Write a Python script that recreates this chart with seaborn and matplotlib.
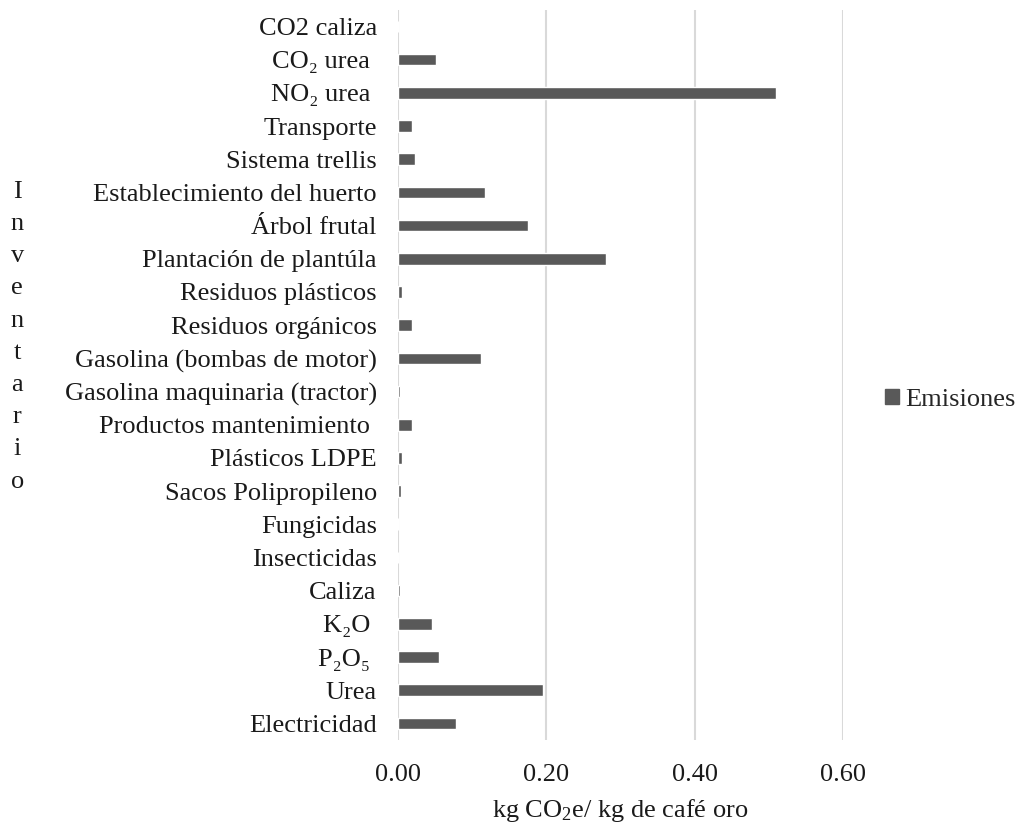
import matplotlib
matplotlib.use("Agg")
import matplotlib.pyplot as plt
import matplotlib.patches as mpatches
import pandas as pd
import seaborn as sns

# ---------- data ----------
categories = [
    "CO2 caliza", "CO₂ urea ", "NO₂ urea ", "Transporte", "Sistema trellis",
    "Establecimiento del huerto", "Árbol frutal", "Plantación de plantúla",
    "Residuos plásticos", "Residuos orgánicos", "Gasolina (bombas de motor)",
    "Gasolina maquinaria (tractor)", "Productos mantenimiento ",
    "Plásticos LDPE", "Sacos Polipropileno", "Fungicidas", "Insecticidas",
    "Caliza", "K₂O ", "P₂O₅ ", "Urea", "Electricidad",
]
emisiones = [
    0.000, 0.051, 0.509, 0.019, 0.023,
    0.118, 0.176, 0.280,
    0.006, 0.020, 0.112,
    0.003, 0.020,
    0.006, 0.005, 0.000, 0.000,
    0.003, 0.046, 0.056, 0.196, 0.079,
]
xticks = [0.0, 0.2, 0.4, 0.6]

FONT = ["Liberation Serif", "DejaVu Serif"]
BAR = "#595959"
GRID = "#d9d9d9"
TXT = "#1a1a1a"
FS = 19

sns.set_style("white")
plt.rcParams["font.family"] = FONT
plt.rcParams["mathtext.fontset"] = "custom"
plt.rcParams["mathtext.rm"] = "Liberation Serif"
plt.rcParams["mathtext.it"] = "Liberation Serif:italic"

df = pd.DataFrame({"Inventario": categories, "Emisiones": emisiones})

fig = plt.figure(figsize=(10.17, 8.25), dpi=100)
ax = fig.add_axes([0.391, 0.103, 0.438, 0.885])

sns.barplot(data=df, y="Inventario", x="Emisiones", orient="h",
            color=BAR, saturation=1, width=0.35, ax=ax)

ax.set_xlim(0, 0.6)
ax.set_ylim(len(categories) - 0.5, -0.5)
ax.set_xticks(xticks)
ax.set_xticklabels([f"{t:.2f}" for t in xticks])
ax.grid(axis="x", color=GRID, linewidth=1.5)
ax.set_axisbelow(True)
for s in ax.spines.values():
    s.set_visible(False)
ax.tick_params(axis="both", length=0, labelsize=FS, colors=TXT)
ax.tick_params(axis="x", pad=17)
ax.tick_params(axis="y", pad=15)

ax.set_ylabel("")
ax.set_xlabel("kg CO$_2$e/ kg de café oro", fontsize=FS, color=TXT,
              labelpad=8)

# vertical stacked axis title
fig.text(0.017, 0.592, "\n".join("Inventario"), ha="center", va="center",
         fontsize=FS, linespacing=1.6, color=TXT)

handle = mpatches.Patch(color=BAR, label="Emisiones")
ax.legend(handles=[handle], loc="center left", bbox_to_anchor=(1.093, 0.466),
          frameon=False, fontsize=FS, handlelength=0.54, handleheight=0.54,
          handletextpad=0.23, borderpad=0, borderaxespad=0)

fig.savefig("out.png", dpi=100)
